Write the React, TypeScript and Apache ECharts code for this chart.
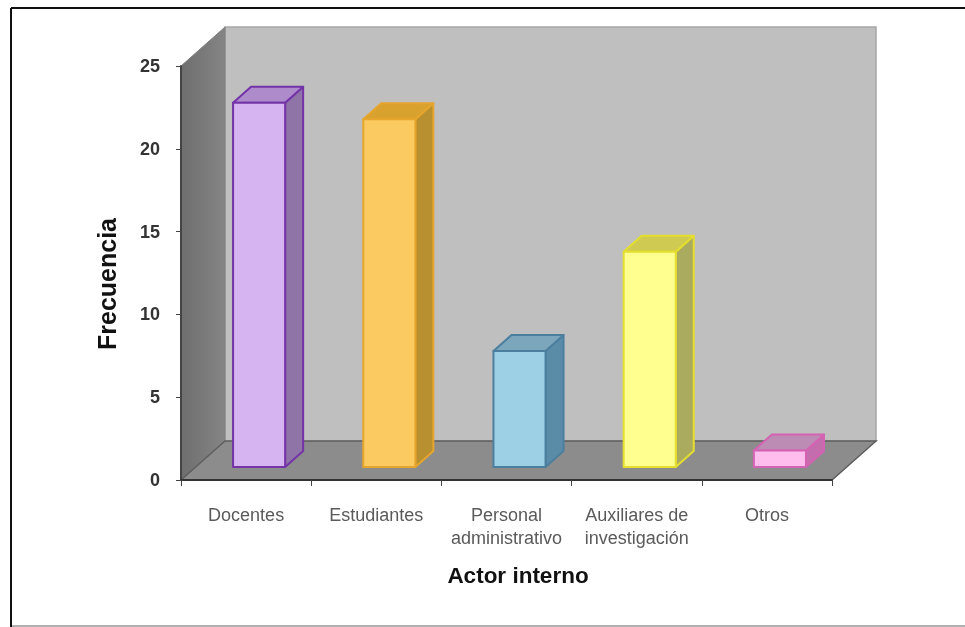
import React, { useEffect, useRef } from "react";
import * as echarts from "echarts";

const categories = ["Docentes", "Estudiantes", "Personal\nadministrativo", "Auxiliares de\ninvestigación", "Otros"];
const values = [22, 21, 7, 13, 1];
const yTicks = { min: 0, max: 25, interval: 5 };
const frontColors = ["#D6B4F2", "#FBCB62", "#9DD0E4", "#FFFF90", "#FFBDEE"];
const edgeColors = ["#7434A8", "#E6A52C", "#4C7F9E", "#E4DE2E", "#D463B4"];
const topColors = ["#AE8CCC", "#D9A22E", "#7BA6BC", "#CFCB52", "#BC8CB4"];
const sideColors = ["#8F74A8", "#B8902F", "#5A8CA8", "#ABAB60", "#C46CAC"];

const DEPTH_X = 44;
const DEPTH_Y = -39;
const BAR_OFFSET_X = 13;
const BAR_OFFSET_Y = -13;
const BAR_DEPTH_X = 18;
const BAR_DEPTH_Y = -16;

export default function App() {
  const ref = useRef<HTMLDivElement>(null);
  useEffect(() => {
    const chart = echarts.init(ref.current!, null, { renderer: "svg" });
    const wallItem = (params: any, api: any) => {
      const c = params.coordSys;
      const L = c.x, R = c.x + c.width, T = c.y, B = c.y + c.height;
      const poly = (points: number[][], style: any) => ({ type: "polygon", shape: { points }, style });
      return {
        type: "group",
        children: [
          poly(
            [[L + DEPTH_X, T + DEPTH_Y], [R + DEPTH_X, T + DEPTH_Y], [R + DEPTH_X, B + DEPTH_Y], [L + DEPTH_X, B + DEPTH_Y]],
            { fill: "#BFBFBF", stroke: "#A8A8A8", lineWidth: 1.5 }
          ),
          poly(
            [[L, T], [L + DEPTH_X, T + DEPTH_Y], [L + DEPTH_X, B + DEPTH_Y], [L, B]],
            {
              fill: new echarts.graphic.LinearGradient(0, 0, 1, 0, [
                { offset: 0, color: "#6E6E6E" },
                { offset: 1, color: "#858585" },
              ]),
              stroke: "#808080",
              lineWidth: 1,
            }
          ),
          poly(
            [[L, B], [R, B], [R + DEPTH_X, B + DEPTH_Y], [L + DEPTH_X, B + DEPTH_Y]],
            { fill: "#8C8C8C", stroke: "#5E5E5E", lineWidth: 1.5 }
          ),
        ],
      };
    };
    const barItem = (params: any, api: any) => {
      const i = api.value(0);
      const v = api.value(1);
      const base = api.coord([i, 0]);
      const top = api.coord([i, v]);
      const w = api.size([1, 0])[0] * 0.4;
      const x0 = base[0] - w / 2 + BAR_OFFSET_X;
      const x1 = x0 + w;
      const yb = base[1] + BAR_OFFSET_Y;
      const yt = top[1] + BAR_OFFSET_Y;
      const dx = BAR_DEPTH_X, dy = BAR_DEPTH_Y;
      const stroke = edgeColors[i];
      const poly = (points: number[][], fill: string) => ({
        type: "polygon",
        shape: { points },
        style: { fill, stroke, lineWidth: 2, lineJoin: "round" },
      });
      return {
        type: "group",
        children: [
          poly([[x1, yb], [x1 + dx, yb + dy], [x1 + dx, yt + dy], [x1, yt]], sideColors[i]),
          poly([[x0, yt], [x1, yt], [x1 + dx, yt + dy], [x0 + dx, yt + dy]], topColors[i]),
          poly([[x0, yb], [x1, yb], [x1, yt], [x0, yt]], frontColors[i]),
        ],
      };
    };
    chart.setOption({
      animation: false,
      backgroundColor: "#FFFFFF",
      grid: { left: 181, right: 133, top: 66, height: 414 },
      graphic: [
        { type: "line", shape: { x1: 11, y1: 8, x2: 965, y2: 8 }, style: { stroke: "#111", lineWidth: 2 } },
        { type: "line", shape: { x1: 11, y1: 8, x2: 11, y2: 627 }, style: { stroke: "#111", lineWidth: 2 } },
        { type: "line", shape: { x1: 12, y1: 626, x2: 965, y2: 626 }, style: { stroke: "#B0B0B0", lineWidth: 2 } },
      ],
      xAxis: {
        type: "category",
        data: categories,
        z: 5,
        name: "Actor interno",
        nameLocation: "middle",
        nameGap: 84,
        nameTextStyle: { fontFamily: "Liberation Sans", fontWeight: "bold", fontSize: 22.5, color: "#111", padding: [0, 0, 0, 23] },
        axisLine: { show: true, lineStyle: { color: "#333", width: 2 } },
        axisTick: { show: true, length: 6, lineStyle: { color: "#444", width: 1 } },
        axisLabel: { interval: 0, margin: 23, fontFamily: "Liberation Sans", fontSize: 18, lineHeight: 23, color: "#5A5A5A" },
      },
      yAxis: {
        type: "value",
        min: yTicks.min,
        max: yTicks.max,
        interval: yTicks.interval,
        z: 5,
        name: "Frecuencia",
        nameLocation: "middle",
        nameGap: 62,
        nameRotate: 90,
        nameTextStyle: { fontFamily: "Liberation Sans", fontWeight: "bold", fontSize: 25, color: "#111", padding: [0, 22, 0, 0] },
        splitLine: { show: false },
        axisLine: { show: true, lineStyle: { color: "#444", width: 2 } },
        axisTick: { show: true, length: 5, lineStyle: { color: "#444", width: 1 } },
        axisLabel: { margin: 21, fontFamily: "Liberation Sans", fontWeight: "bold", fontSize: 18, color: "#333" },
      },
      series: [
        { type: "custom", z: 1, silent: true, data: [[0, 0]], renderItem: wallItem, clip: false, encode: { x: 0, y: 1 } },
        {
          type: "custom",
          z: 2,
          clip: false,
          data: values.map((v, i) => [i, v]),
          renderItem: barItem,
          encode: { x: 0, y: 1 },
        },
      ],
    });
    return () => chart.dispose();
  }, []);
  return <div ref={ref} style={{ position: "absolute", left: 0, top: 0, width: 965, height: 627, filter: "blur(0.5px)" }} />;
}
